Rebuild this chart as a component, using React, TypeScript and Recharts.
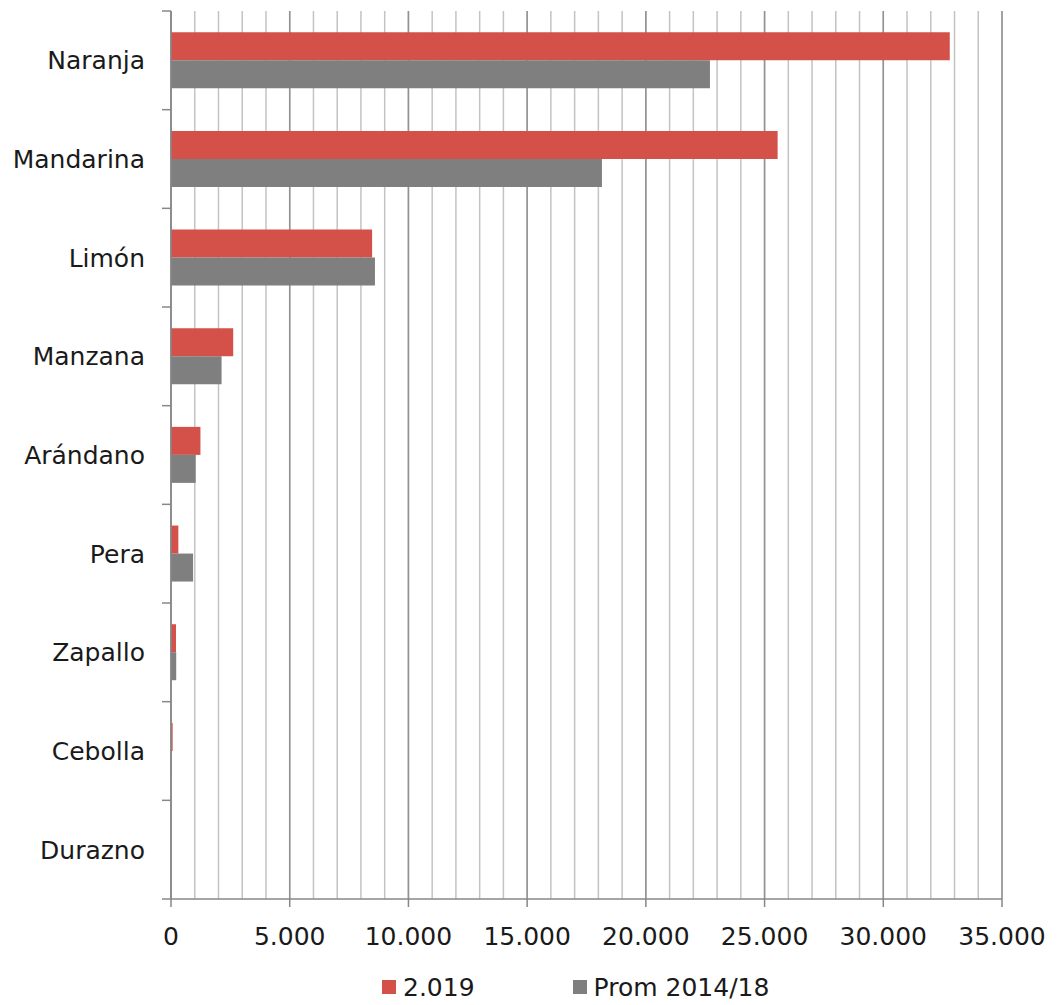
import React from 'react';
import {
  BarChart,
  Bar,
  XAxis,
  YAxis,
  CartesianGrid,
  Legend,
} from 'recharts';

const categories = ['Naranja', 'Mandarina', 'Limón', 'Manzana', 'Arándano', 'Pera', 'Zapallo', 'Cebolla', 'Durazno'];
const values2019 = [32800, 25550, 8470, 2620, 1240, 310, 210, 70, 0];
const valuesProm = [22700, 18150, 8590, 2130, 1040, 930, 220, 20, 0];
const majorTicks = [0, 5000, 10000, 15000, 20000, 25000, 30000, 35000];
const minorTicks = [
  0, 1000, 2000, 3000, 4000, 5000, 6000, 7000, 8000, 9000, 10000, 11000, 12000,
  13000, 14000, 15000, 16000, 17000, 18000, 19000, 20000, 21000, 22000, 23000,
  24000, 25000, 26000, 27000, 28000, 29000, 30000, 31000, 32000, 33000, 34000, 35000,
];
const X_MAX = 35000;

const data = categories.map((name, i) => ({
  name,
  y2019: values2019[i],
  prom: valuesProm[i],
}));

const FONT = '"DejaVu Sans", sans-serif';
const TEXT = '#1a1a1a';
const AXIS = '#878787';
const RED = '#d35149';
const GRAY = '#7f7f7f';

const CHART_W = 1057;
const CHART_H = 1005;
const TOP = 11;
const BOTTOM_SPACE = 106;
const BAND = (CHART_H - TOP - BOTTOM_SPACE) / categories.length;

const CategoryTick = (props: any) => {
  const { x, y, payload, index } = props;
  const isLast = index === categories.length - 1;
  return (
    <g>
      <line x1={x - 9} x2={x} y1={y - BAND / 2} y2={y - BAND / 2} stroke={AXIS} strokeWidth={1.5} />
      {isLast && (
        <line x1={x - 9} x2={x} y1={y + BAND / 2} y2={y + BAND / 2} stroke={AXIS} strokeWidth={1.5} />
      )}
      <text x={x - 26} y={y} dy={9} textAnchor="end" fill={TEXT} fontSize={25} fontFamily={FONT}>
        {payload.value}
      </text>
    </g>
  );
};

const LegendContent = (props: any) => {
  const { payload } = props;
  return (
    <div style={{ height: 36, display: 'flex', alignItems: 'center', paddingLeft: 382, fontFamily: FONT, fontSize: 25, color: TEXT }}>
      {(payload || []).map((entry: any, i: number) => (
        <div key={i} style={{ display: 'flex', alignItems: 'center', marginRight: i === 0 ? 98 : 0 }}>
          <span style={{ width: 14, height: 14, background: entry.color, display: 'inline-block', marginRight: 7 }} />
          <span>{entry.value}</span>
        </div>
      ))}
    </div>
  );
};

// grid positions through the axis scale when available, else through the plot offset
const gridFrom = (ticks: number[]) => ({ xAxis, offset }: any) => {
  const s = xAxis && xAxis.scale;
  if (typeof s === 'function') return ticks.map((v) => s(v));
  if (s && typeof s.map === 'function') return ticks.map((v) => s.map(v));
  if (offset) return ticks.map((v) => offset.left + (v / X_MAX) * offset.width);
  return [];
};

export default function App() {
  return (
    <div style={{ position: 'absolute', left: 0, top: 0, background: '#fff' }}>
      <BarChart
        width={CHART_W}
        height={CHART_H}
        data={data}
        layout="vertical"
        margin={{ top: TOP, right: 55, left: 0, bottom: 0 }}
        barGap={0}
        barCategoryGap="21.5%"
      >
        <CartesianGrid
          horizontal={false}
          stroke="#c3c3c3"
          strokeWidth={1.5}
          verticalCoordinatesGenerator={gridFrom(minorTicks)}
        />
        <CartesianGrid
          horizontal={false}
          stroke="#919191"
          strokeWidth={1.5}
          verticalCoordinatesGenerator={gridFrom(majorTicks)}
        />
        <XAxis
          type="number"
          domain={[0, X_MAX]}
          ticks={majorTicks}
          interval={0}
          height={70}
          tickSize={8}
          tickMargin={20}
          axisLine={{ stroke: AXIS, strokeWidth: 1.5 }}
          tickLine={{ stroke: AXIS, strokeWidth: 1.5 }}
          tick={{ fill: TEXT, fontSize: 25, fontFamily: FONT }}
          tickFormatter={(v: number) => v.toLocaleString('de-DE')}
        />
        <YAxis
          type="category"
          dataKey="name"
          width={171}
          interval={0}
          tickLine={false}
          tickSize={0}
          tickMargin={0}
          axisLine={{ stroke: AXIS, strokeWidth: 1.5 }}
          tick={<CategoryTick />}
        />
        <Legend verticalAlign="bottom" content={<LegendContent />} />
        <Bar dataKey="y2019" name="2.019" fill={RED} isAnimationActive={false} />
        <Bar dataKey="prom" name="Prom 2014/18" fill={GRAY} isAnimationActive={false} />
      </BarChart>
    </div>
  );
}
